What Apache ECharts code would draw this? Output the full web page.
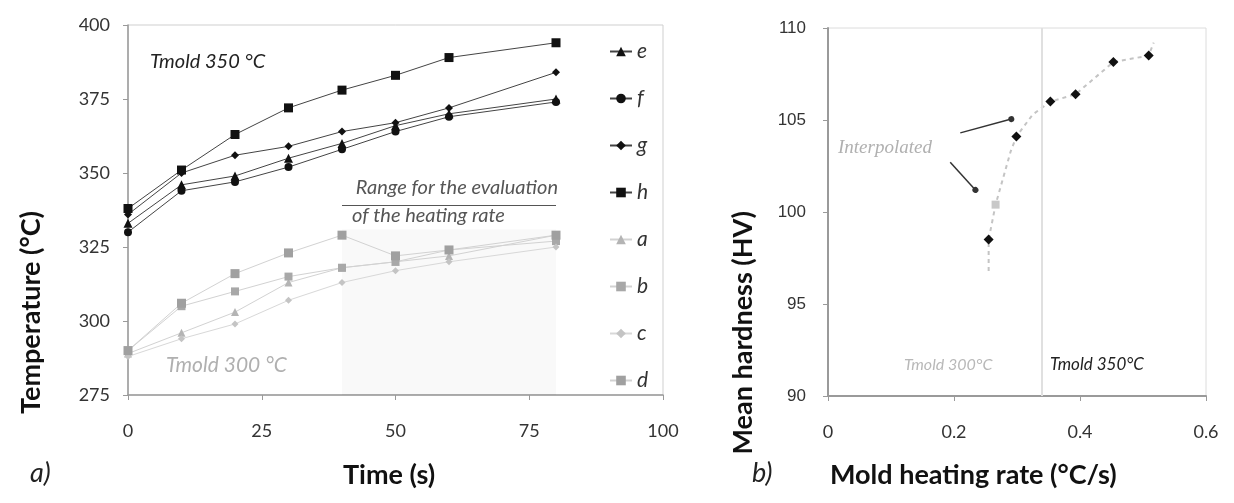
<!DOCTYPE html>
<html>
<head>
<meta charset="utf-8">
<script src="https://cdn.jsdelivr.net/npm/echarts@6/dist/echarts.min.js"></script>
<style>
html,body{margin:0;padding:0;background:#fff;}
#c{width:1234px;height:503px;}
</style>
</head>
<body>
<div id="c"></div>
<script>
// ---- Data: panel a) temperature vs time ----
const timeCats = [0, 10, 20, 30, 40, 50, 60, 80];
const serE = [333, 346, 349, 355, 360, 366, 370, 375];
const serF = [330, 344, 347, 352, 358, 364, 369, 374];
const serG = [336, 350, 356, 359, 364, 367, 372, 384];
const serH = [338, 351, 363, 372, 378, 383, 389, 394];
const serA = [289, 296, 303, 313, 318, 320, 322, 329];
const serB = [290, 305, 310, 315, 318, 320, 324, 327];
const serC = [288, 294, 299, 307, 313, 317, 320, 325];
const serD = [290, 306, 316, 323, 329, 322, 324, 329];
const tempTicks = [275, 300, 325, 350, 375, 400];
const timeTicks = [0, 25, 50, 75, 100];
const rangeStart = 40, rangeEnd = 80;

// ---- Data: panel b) hardness vs heating rate ----
const rateBlack = [0.255, 0.299, 0.353, 0.393, 0.453, 0.509];
const hardBlack = [98.5, 104.1, 106.0, 106.4, 108.15, 108.5];
const rateGray = [0.266];
const hardGray = [100.4];
const trendRate = [0.255, 0.255, 0.266, 0.29, 0.299, 0.325, 0.353, 0.393, 0.453, 0.509, 0.517];
const trendHard = [96.8, 98.5, 100.4, 103.3, 104.1, 105.3, 106.0, 106.4, 108.15, 108.5, 109.2];
const interpFrom = [[0.210, 104.3], [0.194, 102.7]];
const interpTo = [[0.291, 105.05], [0.234, 101.2]];
const tmoldSplit = 0.34;

const FN = '"Liberation Sans Narrow", Lato, "DejaVu Sans Condensed", sans-serif';
const BLK = '#111111', GRY = '#b4b4b4';

function zip(xs, ys){ return xs.map((x,i)=>[x, ys[i]]); }

function tSeries(name, data, sym, color, lineColor, size){
  return {
    name, type:'line', xAxisIndex:0, yAxisIndex:0,
    data: zip(timeCats, data),
    symbol: sym, symbolSize: size,
    itemStyle:{color: color, opacity:1},
    lineStyle:{color: lineColor, width:1},
    z: color===BLK ? 5 : 3
  };
}

const chart = echarts.init(document.getElementById('c'));
const option = {
  animation:false,
  backgroundColor:'#fff',
  grid:[
    {left:128, right:571, top:25, bottom:108, show:true, borderColor:'#cfcfcf', borderWidth:1},
    {left:828, right:28, top:28, bottom:107, show:true, borderColor:'#dcdcdc', borderWidth:1}
  ],
  legend:{
    orient:'vertical', left:604, top:36, itemGap:26, itemWidth:22, itemHeight:12,
    textStyle:{fontFamily:FN, fontStyle:'italic', fontSize:21, color:'#333', lineHeight:20},
    data:['e','f','g','h','a','b','c','d']
  },
  xAxis:[
    {gridIndex:0, type:'value', min:0, max:100, interval:25,
     axisLine:{lineStyle:{color:'#9a9a9a', width:1.5}}, axisTick:{show:true, length:5, lineStyle:{color:'#9a9a9a'}},
     axisLabel:{fontFamily:FN, fontSize:18, color:'#333', margin:27}, splitLine:{show:false}},
    {gridIndex:1, type:'value', min:0, max:0.6, interval:0.2,
     axisLine:{lineStyle:{color:'#9a9a9a', width:2}}, axisTick:{show:true, length:5, lineStyle:{color:'#9a9a9a'}},
     axisLabel:{fontFamily:FN, fontSize:18, color:'#333', margin:27, formatter:v=>String(+v.toFixed(1))}, splitLine:{show:false}}
  ],
  yAxis:[
    {gridIndex:0, type:'value', min:275, max:400, interval:25,
     axisLine:{show:true, lineStyle:{color:'#9a9a9a', width:1.5}}, axisTick:{show:true, length:5, lineStyle:{color:'#9a9a9a'}},
     axisLabel:{fontFamily:FN, fontSize:18, color:'#333', margin:18}, splitLine:{show:false}},
    {gridIndex:1, type:'value', min:90, max:110, interval:5,
     axisLine:{show:true, lineStyle:{color:'#9a9a9a', width:2}}, axisTick:{show:true, length:5, lineStyle:{color:'#9a9a9a'}},
     axisLabel:{fontFamily:'"Liberation Sans", Arial, sans-serif', fontSize:17, color:'#333', margin:22}, splitLine:{show:false}}
  ],
  series:[
    Object.assign(tSeries('e', serE, 'triangle', BLK, '#444', 9), {
      markArea:{silent:true, itemStyle:{color:'rgba(0,0,0,0.025)'},
        data:[[{xAxis:rangeStart, yAxis:275},{xAxis:rangeEnd, yAxis:331}]]},
      markLine:{silent:true, symbol:['none','none'], lineStyle:{color:'#555', width:1, type:'solid'}, label:{show:false},
        data:[[{coord:[rangeStart,339]},{coord:[rangeEnd,339]}]]}
    }),
    tSeries('f', serF, 'circle', BLK, '#444', 8),
    tSeries('g', serG, 'diamond', BLK, '#444', 8),
    tSeries('h', serH, 'rect', BLK, '#444', 9),
    tSeries('a', serA, 'triangle', GRY, '#d2d2d2', 8),
    tSeries('b', serB, 'rect', '#a8a8a8', '#d2d2d2', 8),
    tSeries('c', serC, 'diamond', '#c4c4c4', '#d8d8d8', 7),
    tSeries('d', serD, 'rect', '#a0a0a0', '#d2d2d2', 9),
    // panel b
    {name:'trend', type:'line', xAxisIndex:1, yAxisIndex:1, data: zip(trendRate, trendHard),
     symbol:'none', lineStyle:{color:'#c4c4c4', width:2, type:[4,4]}, z:2,
     markLine:{silent:true, symbol:['none','none'], label:{show:false}, lineStyle:{color:'#e0e0e0', width:2, type:'solid'},
       data:[{xAxis:tmoldSplit}]}},
    {name:'hard300', type:'scatter', xAxisIndex:1, yAxisIndex:1, data: zip(rateGray, hardGray),
     symbol:'rect', symbolSize:8, itemStyle:{color:'#c8c8c8', opacity:1}, z:4},
    {name:'hard', type:'scatter', xAxisIndex:1, yAxisIndex:1, data: zip(rateBlack, hardBlack),
     symbol:'diamond', symbolSize:10, itemStyle:{color:BLK, opacity:1}, z:5,
     markLine:{silent:true, symbol:['none','circle'], symbolSize:6, label:{show:false},
       lineStyle:{color:'#333', width:1.5, type:'solid'},
       data: interpFrom.map((p,i)=>[{coord:p},{coord:interpTo[i]}])}}
  ],
  graphic:[
    {type:'text', left:150, top:52, style:{text:'Tmold 350 °C', font:'italic 20px '+FN, fill:'#222'}},
    {type:'text', left:166, top:355, style:{text:'Tmold 300 °C', font:'italic 21px '+FN, fill:'#b0b0b0'}},
    {type:'text', right:1234-558, top:178, style:{text:'Range for the evaluation', font:'italic 20px '+FN, fill:'#555', align:'right'}},
    {type:'text', left:352, top:206, style:{text:'of the heating rate', font:'italic 20px '+FN, fill:'#555'}},
    {type:'text', left:18, top:211, rotation:Math.PI/2, originX:0, originY:0,
     style:{text:'Temperature (°C)', font:'bold 27px '+FN, fill:'#111', align:'center', verticalAlign:'middle'}},
    {type:'text', left:730, top:211, rotation:Math.PI/2,
     style:{text:'Mean hardness (HV)', font:'bold 27px '+FN, fill:'#111', align:'center', verticalAlign:'middle'}},
    {type:'text', left:343, top:462, style:{text:'Time (s)', font:'bold 27px '+FN, fill:'#111'}},
    {type:'text', left:830, top:462, style:{text:'Mold heating rate (°C/s)', font:'bold 27px '+FN, fill:'#111'}},
    {type:'text', left:30, top:460, style:{text:'a)', font:'italic 27px '+FN, fill:'#222'}},
    {type:'text', left:752, top:460, style:{text:'b)', font:'italic 27px '+FN, fill:'#222'}},
    {type:'text', left:838, top:138, style:{text:'Interpolated', font:'italic 19px "Liberation Serif", serif', fill:'#b0b0b0'}},
    {type:'text', left:904, top:357, style:{text:'Tmold 300°C', font:'italic 16px '+FN, fill:'#b8b8b8'}},
    {type:'text', left:1050, top:356, style:{text:'Tmold 350°C', font:'italic 17px '+FN, fill:'#222'}}
  ]
};
chart.setOption(option);
</script>
</body>
</html>
